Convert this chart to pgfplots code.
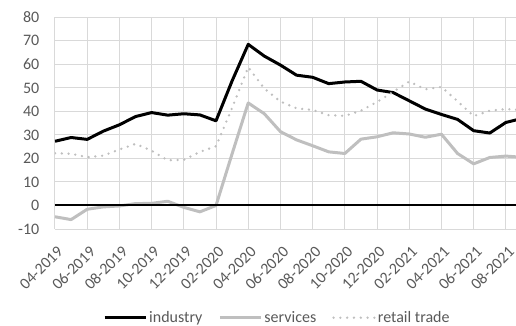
\documentclass[border=0pt]{standalone}
\usepackage{pgfplots}
\pgfplotsset{compat=1.18}
\usepackage{pgfplotstable}
\usepackage{fontspec}
\setmainfont{Carlito}
\definecolor{txt}{HTML}{595959}
\definecolor{grd}{HTML}{D9D9D9}
\definecolor{svc}{HTML}{BFBFBF}
\pgfplotstableread{
i industry services retail
0 27.3 -4.8 22.2
1 28.9 -6.0 22.0
2 28.1 -1.6 20.5
3 31.6 -0.6 21.2
4 34.3 -0.2 23.8
5 37.8 0.8 26.2
6 39.5 0.9 23.3
7 38.4 1.8 19.2
8 39.0 -0.8 19.4
9 38.5 -2.7 22.8
10 36.0 0.0 25.2
11 53.0 22.0 41.5
12 68.5 43.6 58.8
13 63.5 39.0 49.7
14 59.7 31.4 44.2
15 55.4 27.9 41.3
16 54.5 25.4 40.6
17 51.8 22.8 38.4
18 52.5 22.1 38.1
19 52.8 28.2 40.3
20 49.1 29.2 44.0
21 48.0 30.9 48.3
22 44.5 30.4 52.7
23 41.0 29.0 49.4
24 38.7 30.3 50.4
25 36.6 22.1 44.3
26 31.8 17.7 38.0
27 30.8 20.4 40.3
28 35.3 21.0 41.0
29 37.0 20.5 40.6
}\data
\begin{document}
\begin{tikzpicture}
\begin{axis}[
  at={(0pt,0pt)}, anchor=south west,
  scale only axis, width=461pt, height=211.7pt,
  font=\fontsize{16}{19}\selectfont,
  xmin=0, xmax=28.63, ymin=-10, ymax=80,
  axis line style={draw=none},
  tick style={draw=none},
  xtick={0,2,...,28},
  xticklabels={04-2019,06-2019,08-2019,10-2019,12-2019,02-2020,04-2020,06-2020,08-2020,10-2020,12-2020,02-2021,04-2021,06-2021,08-2021},
  ytick={-10,0,...,80},
  yticklabels={-10,0,10,20,30,40,50,60,70,80},
  grid=major,
  major grid style={grd, line width=1pt},
  yticklabel style={txt, anchor=east, inner sep=0pt, xshift=-15.5pt},
  xticklabel style={txt, xshift=1.5pt, yshift=-16pt, rotate=45, anchor=north east, inner sep=0pt},
  legend columns=3,
  legend style={draw=none, fill=none, at={(0.4824,-0.419)}, anchor=center,
    font=\fontsize{16}{19}\selectfont, text=txt,
    /tikz/every even column/.append style={column sep=14pt}},
  legend image code/.code={\draw[#1] (0pt,0pt) -- (41pt,0pt);},
]
\addplot[black, line width=3pt, line join=round] table[x=i, y=industry]{\data};
\addlegendentry{industry}
\addplot[svc, line width=3pt, line join=round] table[x=i, y=services]{\data};
\addlegendentry{services}
\addplot[svc, line width=2.6pt, line cap=round, dash pattern=on 0pt off 6.8pt] table[x=i, y=retail]{\data};
\addlegendentry{retail trade}
\draw[black, line width=2pt] (axis cs:0,0) -- (axis cs:28.63,0);
\end{axis}
\pgfresetboundingbox
\path[use as bounding box] (-55pt,-96pt) rectangle (461pt,229pt);
\end{tikzpicture}
\end{document}
